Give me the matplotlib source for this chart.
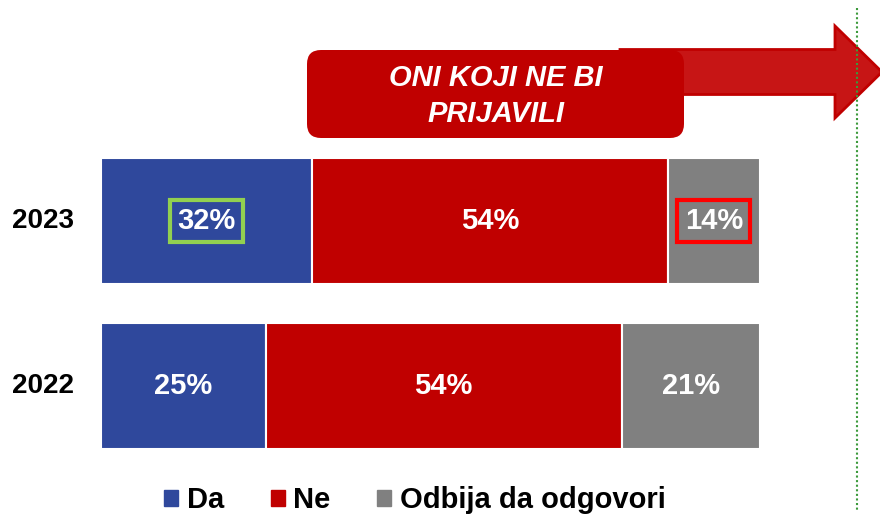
import matplotlib
matplotlib.use("Agg")
from matplotlib import pyplot as plt
from matplotlib.patches import FancyBboxPatch, FancyArrow, Patch

plt.rcParams['font.family'] = ['Liberation Sans', 'DejaVu Sans']

years = ['2022', '2023']
da = [25, 32]
ne = [54, 54]
odbija = [21, 14]
series_names = ['Da', 'Ne', 'Odbija da odgovori']
colors = ['#2F489C', '#C00000', '#808080']
title_text = 'ONI KOJI NE BI\nPRIJAVILI'

W, H = 880, 515
fig = plt.figure(figsize=(W / 100, H / 100), dpi=100)

# main bar axes: 0..100 % maps to px 101..760
ax = fig.add_axes([101 / W, 46.5 / H, 659 / W, 330 / H])
ax.set_xlim(0, 100)
ax.set_ylim(-0.5, 1.5)
ax.axis('off')

ypos = list(range(len(years)))
left = [0] * len(years)
for vals, c in zip([da, ne, odbija], colors):
    ax.barh(ypos, vals, left=left, height=0.764, color=c, edgecolor='white', linewidth=1.5)
    for y, v, l in zip(ypos, vals, left):
        ax.text(l + v / 2, y, f'{v}%', ha='center', va='center', color='white',
                fontsize=21, fontweight='bold')
    left = [a + b for a, b in zip(left, vals)]

# highlight boxes on 2023
i23 = years.index('2023')
ax.texts[0 * 2 + i23].set_bbox(dict(boxstyle='square,pad=0.25', fc='none', ec='#92D050', lw=3))
ax.texts[2 * 2 + i23].set_bbox(dict(boxstyle='square,pad=0.25', fc='none', ec='#FF0000', lw=3))

for y, yr in zip(ypos, years):
    ax.text(-8.8, y, yr, ha='center', va='center', fontsize=20, fontweight='bold', color='black')

# overlay in pixel space for the callout, arrow and dotted line
ov = fig.add_axes([0, 0, 1, 1], zorder=-1)
ov.set_xlim(0, W)
ov.set_ylim(H, 0)
ov.axis('off')

ov.plot([857, 857], [8, 510], linestyle=(0, (1, 1.2)), color='#3C9A3C', linewidth=1.5)
ov.add_patch(FancyArrow(620, 72, 262, 0, width=45, head_width=92, head_length=47,
                        length_includes_head=True, fc='#C71515', ec='#C00000', lw=2))
ov.add_patch(FancyBboxPatch((307 + 14, 50 + 14), 377 - 28, 88 - 28,
                            boxstyle='round,pad=14', fc='#C00000', ec='none'))
ov.text(496, 96, title_text, ha='center', va='center', color='white', fontsize=21,
        fontweight='bold', fontstyle='italic', linespacing=1.35)

handles = [Patch(color=c) for c in colors]
fig.legend(handles, series_names, loc='center', bbox_to_anchor=(415 / W, 15 / H), ncol=3,
           frameon=False, prop={'weight': 'bold', 'size': 21}, handlelength=0.48,
           handleheight=0.48, handletextpad=0.3, columnspacing=1.6)

fig.savefig('out.png', dpi=100)
